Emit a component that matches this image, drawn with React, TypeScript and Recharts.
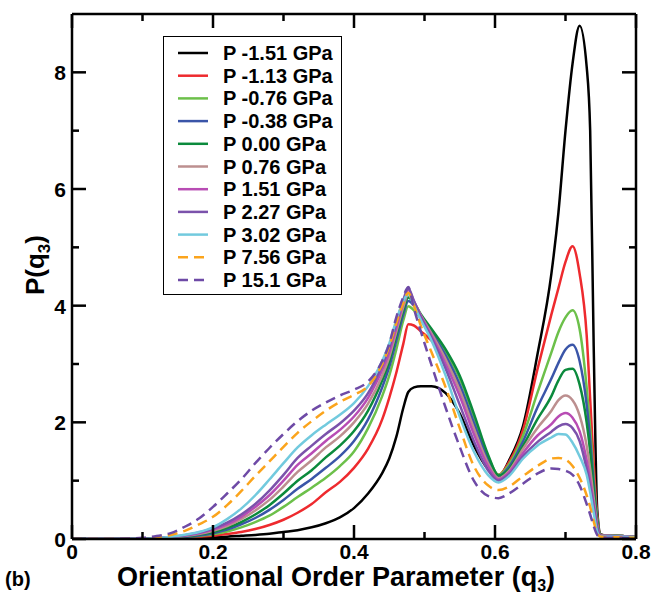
import { Legend, Line, LineChart, XAxis, YAxis } from "recharts";

// orientational order parameter grid (q3)
const qGrid = [
  0, 0.05, 0.1, 0.12, 0.14, 0.16, 0.18, 0.2, 0.22, 0.24, 0.26, 0.28, 0.3, 0.32, 0.34, 0.36, 0.38, 0.4, 0.42,
  0.44, 0.45, 0.46, 0.47, 0.477, 0.485, 0.495, 0.51, 0.53, 0.55, 0.57, 0.59, 0.605,
  0.62, 0.64, 0.66, 0.68, 0.69, 0.7, 0.71,
  0.72, 0.73, 0.735, 0.74, 0.745, 0.75,
  0.76, 0.78, 0.8,
];

const pM151 = [
  0, 0, 0, 0, 0.005, 0.01, 0.02, 0.03, 0.04, 0.055, 0.07, 0.09, 0.12, 0.15, 0.2, 0.27, 0.37, 0.53, 0.78,
  1.13, 1.38, 1.75, 2.25, 2.52, 2.6, 2.62, 2.62, 2.5, 2.15, 1.6, 1.2, 1.07,
  1.35, 1.95, 3.15, 4.55, 5.6, 7.0, 8.15,
  8.8, 8.1, 7.0, 3.3, 0.5, 0.08,
  0.06, 0.05, 0.03,
];
const pM113 = [
  0, 0, 0, 0.005, 0.01, 0.02, 0.035, 0.055, 0.085, 0.12, 0.17, 0.24, 0.33, 0.45, 0.6, 0.8, 0.98, 1.22, 1.55,
  2.05, 2.42, 2.85, 3.35, 3.68, 3.66, 3.56, 3.4, 3.1, 2.6, 1.95, 1.35, 1.1,
  1.32, 1.88, 2.9, 3.85, 4.3, 4.75, 5.02,
  4.55, 3.5, 2.4, 1.3, 0.4, 0.07,
  0.06, 0.05, 0.03,
];
const pM076 = [
  0, 0, 0, 0.005, 0.015, 0.03, 0.05, 0.08, 0.13, 0.2, 0.29, 0.4, 0.55, 0.72, 0.88, 1.05, 1.25, 1.5, 1.9,
  2.45, 2.8, 3.25, 3.75, 3.99, 3.92, 3.78, 3.55, 3.2, 2.75, 2.1, 1.42, 1.1,
  1.28, 1.78, 2.5, 3.2, 3.55, 3.8, 3.92,
  3.6, 2.6, 1.9, 1.05, 0.35, 0.07,
  0.06, 0.05, 0.03,
];
const pM038 = [
  0, 0, 0, 0.008, 0.02, 0.035, 0.06, 0.1, 0.16, 0.25, 0.36, 0.5, 0.67, 0.86, 1.03, 1.22, 1.42, 1.68, 2.05,
  2.6, 2.95, 3.4, 3.85, 4.08, 4.0, 3.82, 3.55, 3.15, 2.65, 2.0, 1.37, 1.08,
  1.24, 1.68, 2.25, 2.75, 3.02, 3.25, 3.33,
  3.05, 2.3, 1.7, 0.95, 0.32, 0.06,
  0.06, 0.05, 0.03,
];
const p000 = [
  0, 0, 0.002, 0.01, 0.025, 0.045, 0.075, 0.12, 0.19, 0.29, 0.42, 0.58, 0.78, 1.0, 1.18, 1.4, 1.6, 1.85, 2.2,
  2.72, 3.05, 3.5, 3.93, 4.14, 4.05, 3.85, 3.6, 3.25, 2.8, 2.15, 1.45, 1.09,
  1.2, 1.6, 2.05, 2.45, 2.72, 2.9, 2.92,
  2.65, 2.0, 1.5, 0.85, 0.3, 0.06,
  0.06, 0.05, 0.03,
];
const p076 = [
  0, 0, 0.002, 0.012, 0.03, 0.05, 0.085, 0.14, 0.22, 0.34, 0.49, 0.67, 0.9, 1.15, 1.35, 1.57, 1.76, 2.0, 2.32,
  2.8, 3.12, 3.55, 3.98, 4.2, 4.05, 3.83, 3.52, 3.08, 2.55, 1.9, 1.3, 1.04,
  1.17, 1.55, 1.9, 2.2, 2.38, 2.46, 2.38,
  2.12, 1.6, 1.2, 0.7, 0.25, 0.06,
  0.06, 0.05, 0.03,
];
const p151 = [
  0, 0, 0.003, 0.014, 0.033, 0.058, 0.1, 0.16, 0.25, 0.38, 0.55, 0.75, 1.0, 1.27, 1.47, 1.68, 1.87, 2.1, 2.42,
  2.9, 3.2, 3.62, 4.05, 4.27, 4.08, 3.82, 3.48, 3.0, 2.45, 1.8, 1.25, 1.02,
  1.14, 1.48, 1.77, 1.97, 2.1, 2.16, 2.08,
  1.85, 1.35, 1.0, 0.6, 0.22, 0.05,
  0.05, 0.04, 0.03,
];
const p227 = [
  0, 0, 0.003, 0.016, 0.036, 0.065, 0.11, 0.18, 0.28, 0.42, 0.6, 0.83, 1.1, 1.39, 1.6, 1.8, 1.98, 2.2, 2.5,
  2.98, 3.28, 3.7, 4.1, 4.3, 4.08, 3.8, 3.45, 2.92, 2.3, 1.68, 1.18, 1.0,
  1.11, 1.42, 1.66, 1.84, 1.93, 1.97, 1.9,
  1.68, 1.2, 0.9, 0.55, 0.2, 0.05,
  0.05, 0.04, 0.03,
];
const p302 = [
  0, 0, 0.003, 0.018, 0.04, 0.072, 0.12, 0.2, 0.34, 0.52, 0.75, 1.02, 1.3, 1.57, 1.78, 1.96, 2.13, 2.33, 2.62,
  3.05, 3.35, 3.75, 4.08, 4.2, 4.0, 3.75, 3.4, 2.8, 2.1, 1.5, 1.1, 0.97,
  1.08, 1.38, 1.6, 1.74, 1.8, 1.79, 1.65,
  1.42, 1.1, 0.8, 0.45, 0.12, 0.04,
  0.04, 0.04, 0.03,
];
const p756 = [
  0, 0, 0.01, 0.03, 0.07, 0.14, 0.25, 0.38, 0.58, 0.82, 1.08, 1.33, 1.58, 1.82, 2.02, 2.2, 2.35, 2.47, 2.62,
  3.0, 3.3, 3.7, 4.05, 4.22, 4.0, 3.65, 3.2, 2.6, 1.9, 1.25, 0.92, 0.84,
  0.9, 1.08, 1.25, 1.38, 1.39, 1.36, 1.25,
  1.05, 0.75, 0.55, 0.3, 0.1, 0.04,
  0.03, 0.03, 0.02,
];
const p151hi = [
  0, 0, 0.02, 0.05, 0.1, 0.21, 0.35, 0.55, 0.78, 1.02, 1.3, 1.56, 1.8, 2.02, 2.2, 2.34, 2.46, 2.56, 2.7,
  3.05, 3.35, 3.8, 4.15, 4.32, 3.95, 3.55, 2.98, 2.25, 1.58, 1.0, 0.74, 0.7,
  0.78, 0.95, 1.12, 1.21, 1.2, 1.17, 1.1,
  0.92, 0.6, 0.42, 0.22, 0.07, 0.03,
  0.02, 0.02, 0.01,
];

const xTicks = [0, 0.1, 0.2, 0.3, 0.4, 0.5, 0.6, 0.7, 0.8];
const yTicks = [0, 1, 2, 3, 4, 5, 6, 7, 8];

const series = [
  { key: "m151", name: "P -1.51 GPa", color: "#000000", dash: "", values: pM151 },
  { key: "m113", name: "P -1.13 GPa", color: "#ee2a2e", dash: "", values: pM113 },
  { key: "m076", name: "P -0.76 GPa", color: "#6cc04a", dash: "", values: pM076 },
  { key: "m038", name: "P -0.38 GPa", color: "#3a55a8", dash: "", values: pM038 },
  { key: "z000", name: "P 0.00 GPa", color: "#0b8a3c", dash: "", values: p000 },
  { key: "p076", name: "P 0.76 GPa", color: "#bc8f8f", dash: "", values: p076 },
  { key: "p151", name: "P 1.51 GPa", color: "#b84cb4", dash: "", values: p151 },
  { key: "p227", name: "P 2.27 GPa", color: "#7b52ab", dash: "", values: p227 },
  { key: "p302", name: "P 3.02 GPa", color: "#72cade", dash: "", values: p302 },
  { key: "p756", name: "P 7.56 GPa", color: "#fba41c", dash: "10 6", values: p756 },
  { key: "p1510", name: "P 15.1 GPa", color: "#6e4aa6", dash: "10 6", values: p151hi },
];

const chartData = qGrid.map((q, i) => {
  const row: Record<string, number> = { q };
  series.forEach((s) => {
    row[s.key] = s.values[i];
  });
  return row;
});

const FONT = '"Liberation Sans", Arial, Helvetica, sans-serif';
const TICK_W = 2.5;

function BottomTick({ x, y, payload, index }: any) {
  const major = index % 2 === 0;
  return (
    <g>
      <line x1={x} x2={x} y1={y} y2={y - (major ? 14 : 7)} stroke="#000" strokeWidth={TICK_W} />
      {major && (
        <text x={x} y={y + 20} textAnchor="middle" fontSize={21} fontWeight="bold" fontFamily={FONT} fill="#000">
          {payload.value}
        </text>
      )}
    </g>
  );
}

function TopTick({ x, y, index }: any) {
  const major = index % 2 === 0;
  return <line x1={x} x2={x} y1={y} y2={y + (major ? 14 : 7)} stroke="#000" strokeWidth={TICK_W} />;
}

function LeftTick({ x, y, payload, index }: any) {
  const major = index % 2 === 0;
  return (
    <g>
      <line x1={x} x2={x + (major ? 14 : 7)} y1={y} y2={y} stroke="#000" strokeWidth={TICK_W} />
      {major && (
        <text x={x - 6} y={y + 8} textAnchor="end" fontSize={21} fontWeight="bold" fontFamily={FONT} fill="#000">
          {payload.value}
        </text>
      )}
    </g>
  );
}

function RightTick({ x, y, index }: any) {
  const major = index % 2 === 0;
  return <line x1={x} x2={x - (major ? 14 : 7)} y1={y} y2={y} stroke="#000" strokeWidth={TICK_W} />;
}

function LegendBox() {
  return (
    <div style={{ width: 179, height: 259, border: "1px solid #000", background: "#fff", boxSizing: "border-box" }}>
      <svg width={177} height={257}>
        {series.map((s, i) => {
          const cy = 16 + i * 22.7;
          return (
            <g key={s.key}>
              <line x1={14} x2={44} y1={cy} y2={cy} stroke={s.color} strokeWidth={2.5} strokeDasharray={s.dash || undefined} />
              <text x={59} y={cy + 7} fontSize={20} fontWeight="bold" fontFamily={FONT} fill="#000">
                {s.name}
              </text>
            </g>
          );
        })}
      </svg>
    </div>
  );
}

export default function App() {
  return (
    <div style={{ position: "absolute", left: 0, top: 0, width: 652, height: 594, background: "#fff" }}>
      <LineChart width={652} height={594} data={chartData} margin={{ top: 4, right: 10, bottom: 0, left: 0 }}>
        <XAxis
          dataKey="q"
          type="number"
          domain={[0, 0.8]}
          ticks={xTicks}
          interval={0}
          height={55}
          tickSize={0}
          tickMargin={0}
          tick={<BottomTick />}
          axisLine={{ stroke: "#000", strokeWidth: 2.5 }}
          allowDataOverflow
        />
        <XAxis
          xAxisId="top"
          orientation="top"
          dataKey="q"
          type="number"
          domain={[0, 0.8]}
          ticks={xTicks}
          interval={0}
          height={10}
          tickSize={0}
          tickMargin={0}
          tick={<TopTick />}
          axisLine={{ stroke: "#000", strokeWidth: 2.5 }}
          allowDataOverflow
        />
        <YAxis
          type="number"
          domain={[0, 9]}
          ticks={yTicks}
          interval={0}
          width={72}
          tickSize={0}
          tickMargin={0}
          tick={<LeftTick />}
          axisLine={{ stroke: "#000", strokeWidth: 2.5 }}
          allowDataOverflow
        />
        <YAxis
          yAxisId="right"
          orientation="right"
          type="number"
          domain={[0, 9]}
          ticks={yTicks}
          interval={0}
          width={6}
          tickSize={0}
          tickMargin={0}
          tick={<RightTick />}
          axisLine={{ stroke: "#000", strokeWidth: 2.5 }}
          allowDataOverflow
        />
        <Legend
          content={() => <LegendBox />}
          layout="vertical"
          align="center"
          verticalAlign="middle"
          wrapperStyle={{ left: 163, top: 36, width: 179, height: 259 }}
        />
        {series.map((s) => (
          <Line
            key={s.key}
            dataKey={s.key}
            name={s.name}
            type="monotone"
            stroke={s.color}
            strokeWidth={2.5}
            strokeDasharray={s.dash || undefined}
            dot={false}
            isAnimationActive={false}
          />
        ))}
      </LineChart>
      <svg
        width={652}
        height={594}
        style={{ position: "absolute", left: 0, top: 0, pointerEvents: "none" }}
        fontFamily={FONT}
        fontWeight="bold"
      >
        <text transform="translate(44, 265) rotate(-90)" textAnchor="middle" fontSize={26} fill="#000">
          P(q<tspan fontSize={17} dy={6}>3</tspan>
          <tspan dy={-6}>)</tspan>
        </text>
        <text x={5} y={586} fontSize={20} fill="#000">(b)</text>
        <text x={117} y={586} fontSize={27} fill="#000">
          Orientational Order Parameter (q<tspan fontSize={16} dy={5}>3</tspan>
          <tspan dy={-5}>)</tspan>
        </text>
      </svg>
    </div>
  );
}
